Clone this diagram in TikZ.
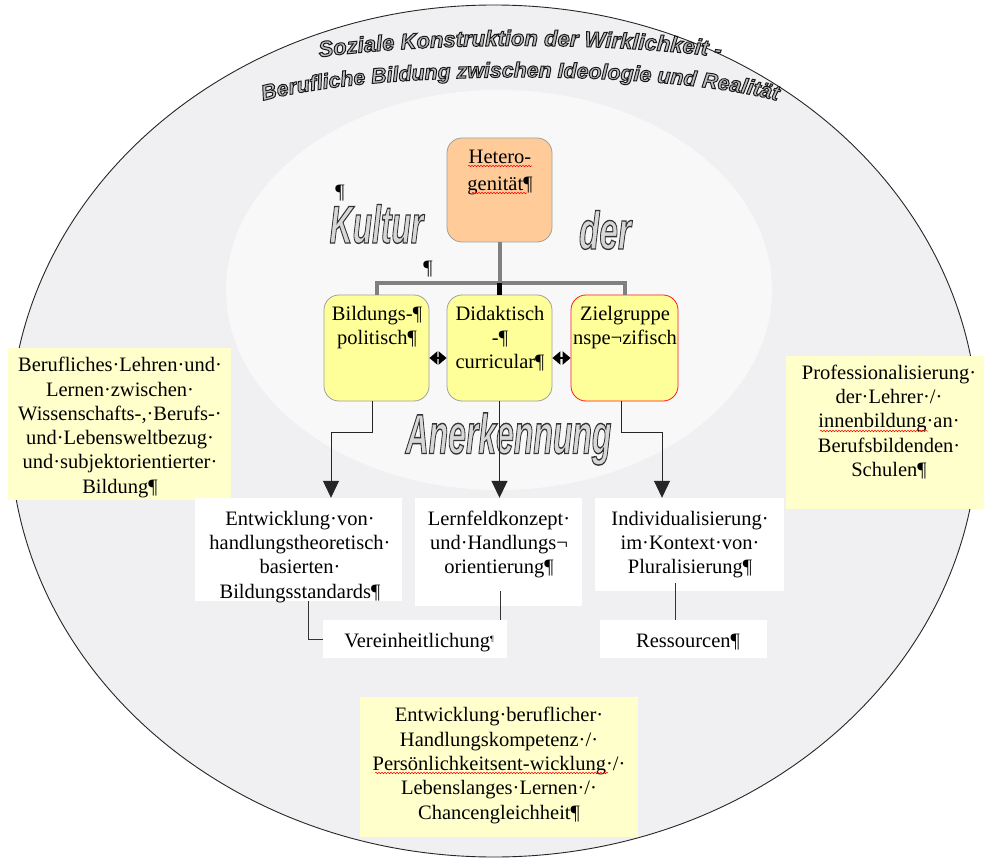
\documentclass[tikz,border=0pt]{standalone}
\usepackage{fontspec}
\usepackage{graphicx}
\setmainfont{Liberation Serif}
\newfontfamily\bwfont[FakeBold=2.5]{Liberation Sans}
\newfontfamily\ttlfont[FakeBold=4.5]{Liberation Sans}
\usetikzlibrary{arrows.meta,decorations.text,decorations.pathmorphing}
\definecolor{outerfill}{RGB}{240,240,243}
\definecolor{innerfill}{RGB}{248,248,248}
\definecolor{peach}{RGB}{255,204,153}
\definecolor{boxyellow}{RGB}{255,255,153}
\definecolor{noteyellow}{RGB}{255,255,204}
\definecolor{treegray}{RGB}{128,128,128}
\definecolor{wordfill}{RGB}{215,215,215}
\definecolor{titlefill}{RGB}{190,190,190}
\newcommand\txtfont{\fontsize{20.5}{24.3}\selectfont}
\newcommand\hetfont{\fontsize{20.5}{27}\selectfont}
\newcommand\bigword[3]{\scalebox{#2}[1]{\bwfont\bfseries\itshape\fontsize{#1}{#1}\selectfont\color{wordfill}\special{pdf:literal direct 0.2 0.2 0.2 RG}#3}}
\newcommand\titlefmt{\ttlfont\bfseries\itshape\fontsize{22}{22}\selectfont\color{titlefill}\special{pdf:literal direct 0.1 0.1 0.1 RG}}
\newcommand\titlefmtb{\ttlfont\bfseries\itshape\fontsize{21.3}{21.3}\selectfont\color{titlefill}\special{pdf:literal direct 0.1 0.1 0.1 RG}}
\begin{document}
\begin{tikzpicture}[x=1pt,y=-1pt,
  tree/.style={draw=treegray,line width=4pt},
  stem/.style={draw=black,line width=5pt},
  arr/.style={draw=black!85,line width=1pt,-{Triangle[width=16pt,length=17pt]}},
  ln/.style={draw=black!80,line width=1pt},
  dbl/.style={draw=black,line width=2pt,{Triangle[width=13pt,length=8pt]}-{Triangle[width=13pt,length=8pt]}},
  rbox/.style={draw=gray!75,line width=0.8pt,rounded corners=15pt,inner sep=0pt},
  plain/.style={fill=white,inner sep=0pt},
  note/.style={fill=noteyellow,inner sep=0pt},
  tx/.style={font=\txtfont,align=center,inner sep=0pt,anchor=north},
  wavy/.style={draw=red,line width=0.5pt,decorate,decoration={snake,amplitude=0.8pt,segment length=3pt}},
  word/.style={inner sep=0pt}
]
\useasboundingbox[fill=white] (0,0) rectangle (984,858);
% ellipses
\fill[outerfill] (494,431) ellipse [x radius=484pt, y radius=426pt];
\fill[innerfill] (499,290) ellipse [x radius=273pt, y radius=200pt];
\draw[black!85,line width=0.9pt] (494,431) ellipse [x radius=484pt, y radius=426pt];
% title
\path[decorate,decoration={text along path,text align=center,
  text={|\titlefmt|Soziale Konstruktion der Wirklichkeit -}}]
  (300,60) .. controls (420,41) and (620,41) .. (740,60);
\path[decorate,decoration={text along path,text align=center,
  text={|\titlefmtb|Berufliche Bildung zwischen Ideologie und Realität}}]
  (240,108) .. controls (345,67) and (695,67) .. (800,108);
% big words
\node[word] (kultur) at (376.5,224) {\bigword{53}{0.6}{Kultur}};
\node[word] (der) at (605,230) {\bigword{53}{0.63}{der}};
\node[word] (anerk) at (508.5,439) {\bigword{56}{0.57}{Anerkennung}};
\node[font=\txtfont,inner sep=0pt] (p1) at (340,193) {¶};
\node[font=\txtfont,inner sep=0pt] (p2) at (428,269) {¶};
% boxes
\node[rbox,fill=peach,minimum width=105pt,minimum height=104pt] (het) at (499.5,190) {};
\node[rbox,fill=boxyellow,minimum width=105pt,minimum height=106pt] (b1) at (376.5,348) {};
\node[rbox,fill=boxyellow,minimum width=105pt,minimum height=106pt] (b2) at (499.5,348) {};
\node[rbox,fill=boxyellow,draw=red!90,minimum width=107pt,minimum height=106pt] (b3) at (624.5,348) {};
\node[note,minimum width=223pt,minimum height=152pt] (lnote) at (119.5,424) {};
\node[note,minimum width=198pt,minimum height=153pt] (rnote) at (885,432.5) {};
\node[note,minimum width=278pt,minimum height=140pt] (bnote) at (499,767) {};
\node[plain,minimum width=207pt,minimum height=103pt] (ent) at (298.5,549.5) {};
\node[plain,minimum width=167pt,minimum height=108pt] (lern) at (498.5,552) {};
\node[plain,minimum width=189pt,minimum height=93pt] (indiv) at (689.5,544.5) {};
\node[plain,minimum width=184pt,minimum height=38pt] (ver) at (415,639) {};
\node[plain,minimum width=167pt,minimum height=38pt] (ress) at (683.5,639) {};
% texts
\node[tx,font=\hetfont] (hett) at (500,144.1) {\strut Hetero-\\genität¶};
\node[tx] (b1t) at (377,303) {\strut Bildungs-¶\\politisch¶};
\node[tx] (b2t) at (500,303) {\strut Didaktisch\\-¶\\curricular¶};
\node[tx] (b3t) at (625,303) {\strut Zielgruppe\\nspe¬zifisch};
\node[tx] (lt) at (120,354.5) {\strut Berufliches·Lehren·und·\\Lernen·zwischen·\\Wissenschafts-,·Berufs-·\\und·Lebensweltbezug·\\und·subjektorientierter·\\Bildung¶};
\node[tx] (rt) at (889,362) {\strut Professionalisierung·\\der·Lehrer·/·\\innenbildung·an·\\Berufsbildenden·\\Schulen¶};
\node[tx] (et) at (300,508) {\strut Entwicklung·von·\\handlungstheoretisch·\\basierten·\\Bildungsstandards¶};
\node[tx] (lnt) at (499,508) {\strut Lernfeldkonzept·\\und·Handlungs¬\\orientierung¶};
\node[tx] (it) at (690,508) {\strut Individualisierung·\\im·Kontext·von·\\Pluralisierung¶};
\node[tx] (vt) at (419,630) {\strut Vereinheitlichung\raisebox{6pt}{\fontsize{8}{8}\selectfont ¶}};
\node[tx] (rst) at (688,630) {\strut Ressourcen¶};
\node[tx] (bt) at (499,704.7) {\strut Entwicklung·beruflicher·\\Handlungskompetenz·/·\\Persönlichkeitsent-wicklung·/·\\Lebenslanges·Lernen·/·\\Chancengleichheit¶};
% spell-check underlines
\draw[wavy] (468,166) -- (532,166);
\draw[wavy] (472,193) -- (527,193);
\draw[wavy] (820,431) -- (928,431);
\draw[wavy] (375,773) -- (608,773);
% tree connectors
\draw[tree] (het.south) -- ++(0,41) coordinate (bar);
\draw[tree] (b1.north) -- (b1.north |- bar) -- (b3.north |- bar) -- (b3.north);
\draw[stem] (bar) -- (b2.north);
% arrows
\draw[arr] ([xshift=-4.5pt]b1.south) -- ++(0,31) -| ([xshift=32.5pt]ent.north);
\draw[arr] (b2.south) -- (b2.south |- lern.north);
\draw[arr] ([xshift=-3.5pt]b3.south) -- ++(0,31) -| ([xshift=-27.5pt]indiv.north);
\draw[dbl] ([yshift=-10pt]b1.east) -- ([yshift=-10pt]b2.west);
\draw[dbl] ([yshift=-10pt]b2.east) -- ([yshift=-10pt]b3.west);
% lower lines
\draw[ln] ([xshift=10pt]ent.south) |- (ver.west);
\coordinate (lv) at ([xshift=1.5pt,yshift=15pt]lern.south);
\draw[ln] (lv) -- (lv |- ver.north);
\coordinate (ir) at ([xshift=-14.5pt,yshift=8pt]indiv.south);
\draw[ln] (ir) -- (ir |- ress.north);
\end{tikzpicture}
\end{document}
